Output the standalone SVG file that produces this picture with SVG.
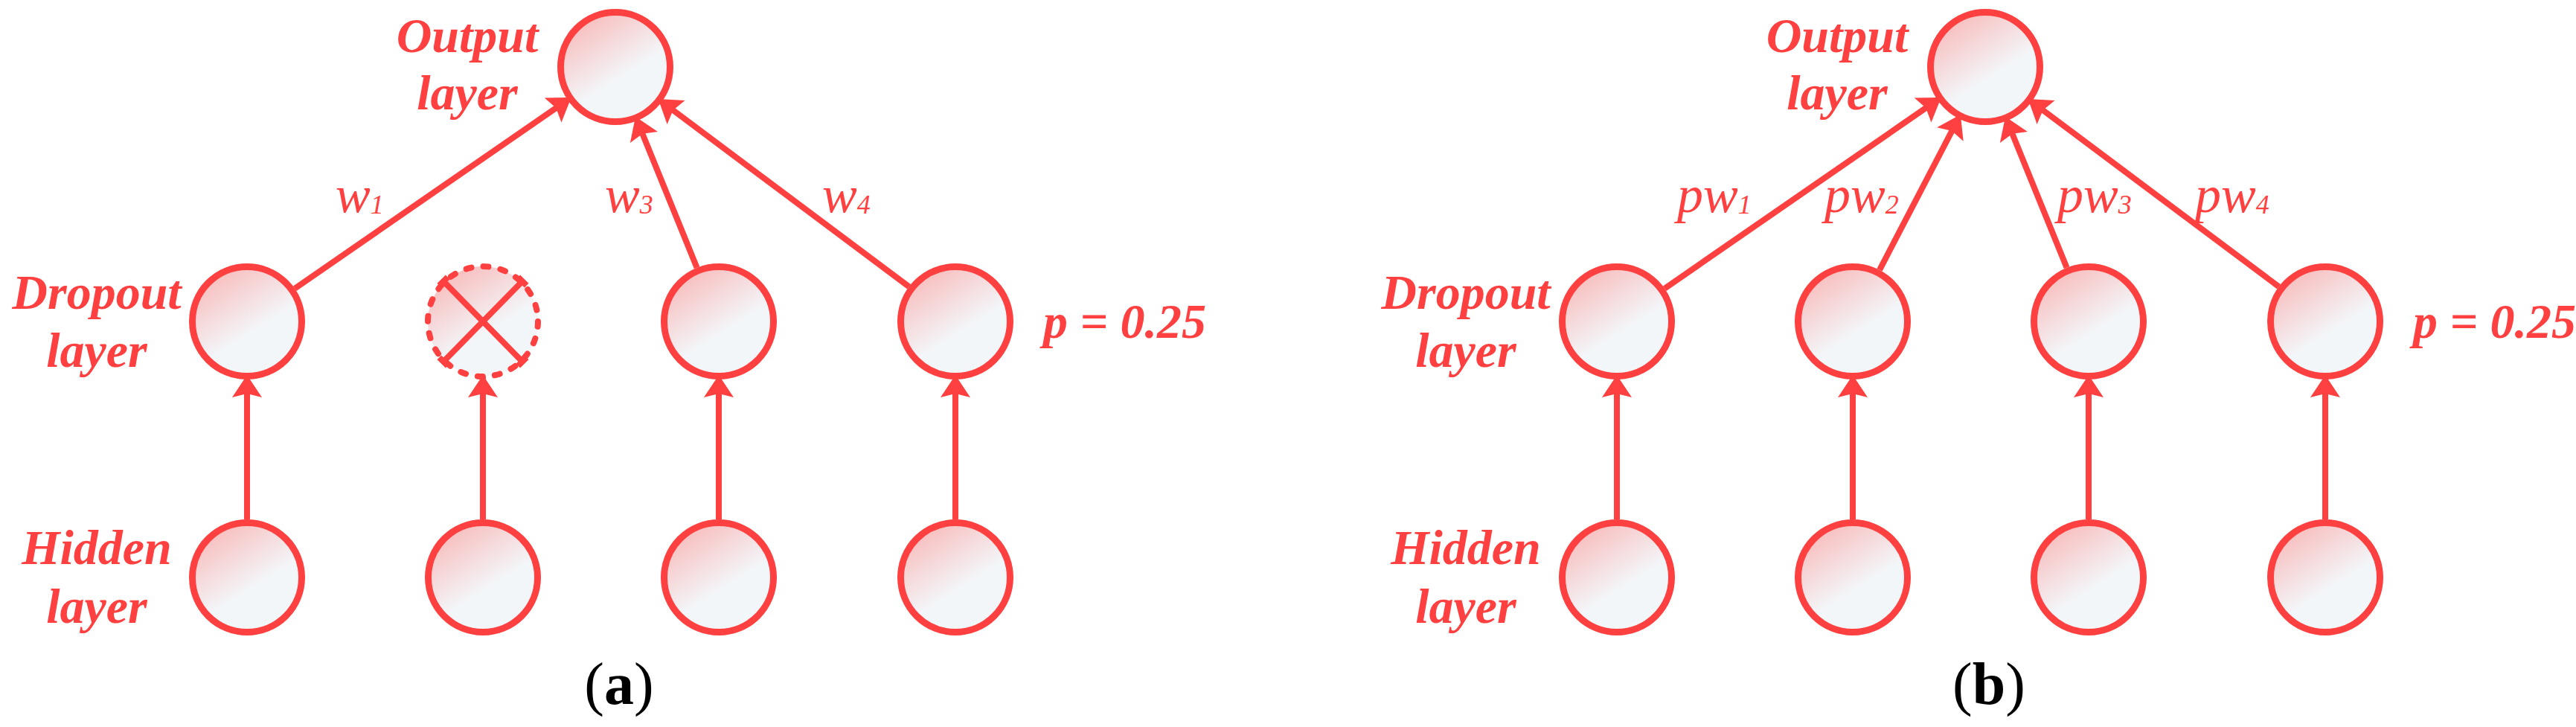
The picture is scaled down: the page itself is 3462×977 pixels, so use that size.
<svg xmlns="http://www.w3.org/2000/svg" width="3462" height="977" viewBox="0 0 3462 977">
<defs>
<linearGradient id="g" x1="0.2" y1="0.05" x2="0.55" y2="0.6">
<stop offset="0" stop-color="#f8bcbc"/>
<stop offset="1" stop-color="#f3f6f9"/>
</linearGradient>
<marker id="ah" markerUnits="userSpaceOnUse" orient="auto" refX="0" refY="0" markerWidth="40" markerHeight="44" overflow="visible">
<path d="M0,0 L-30,-20 L-25,0 L-30,20 Z" fill="#ff4040"/>
</marker>
<style>
.n{fill:url(#g);stroke:#ff4040;stroke-width:9}
.d{fill:url(#g);stroke:#ff4040;stroke-width:8;stroke-dasharray:7 16.248;stroke-linecap:round}
.x{stroke:#ff4040;stroke-width:8;fill:none}
.c line{stroke:#ff4040;stroke-width:8;marker-end:url(#ah)}
.lbl{font-family:"Liberation Serif",serif;font-style:italic;font-weight:bold;font-size:66px;fill:#ff4040;text-anchor:middle}
.w{font-family:"Liberation Serif",serif;font-style:italic;font-size:70px;fill:#ff4040}
.w tspan{font-size:36px}
.p{font-family:"Liberation Serif",serif;font-style:italic;font-weight:bold;font-size:66px;fill:#ff4040}
.cap{font-family:"Liberation Serif",serif;font-size:80px;fill:#000;text-anchor:middle}
</style>
</defs>
<rect width="3462" height="977" fill="#fff"/>

<g id="connectors" class="c">
<!-- panel a -->
<line x1="396.2" y1="387.7" x2="767.8" y2="130.9"/>
<line x1="936.6" y1="359.7" x2="854.1" y2="156.7"/>
<line x1="1221.6" y1="385.3" x2="884.6" y2="133.1"/>
<line x1="332" y1="698" x2="332" y2="504"/>
<line x1="649" y1="698" x2="649" y2="504"/>
<line x1="966" y1="698" x2="966" y2="504"/>
<line x1="1284" y1="698" x2="1284" y2="504"/>
<!-- panel b -->
<line x1="2237.2" y1="387.7" x2="2608.8" y2="130.9"/>
<line x1="2526.0" y1="362.8" x2="2634.8" y2="153.9"/>
<line x1="2777.6" y1="359.7" x2="2695.1" y2="156.7"/>
<line x1="3062.6" y1="385.3" x2="2725.6" y2="133.1"/>
<line x1="2173" y1="698" x2="2173" y2="504"/>
<line x1="2490" y1="698" x2="2490" y2="504"/>
<line x1="2807" y1="698" x2="2807" y2="504"/>
<line x1="3125" y1="698" x2="3125" y2="504"/>
</g>

<!-- panel a nodes -->
<g id="a-output"><circle class="n" cx="827" cy="90" r="73.5"/></g>
<g id="a-drop1"><circle class="n" cx="332" cy="432" r="73.5"/></g>
<g id="a-drop2">
<circle class="d" cx="649" cy="432" r="74"/>
<path class="x" d="M596,378 L702,486 M702,378 L596,486 M590.3,383.6 L601.7,372.4 M696.3,491.6 L707.7,480.4 M696.3,372.4 L707.7,383.6 M590.3,480.4 L601.7,491.6"/>
</g>
<g id="a-drop3"><circle class="n" cx="966" cy="432" r="73.5"/></g>
<g id="a-drop4"><circle class="n" cx="1284" cy="432" r="73.5"/></g>
<g id="a-hid1"><circle class="n" cx="332" cy="776" r="73.5"/></g>
<g id="a-hid2"><circle class="n" cx="649" cy="776" r="73.5"/></g>
<g id="a-hid3"><circle class="n" cx="966" cy="776" r="73.5"/></g>
<g id="a-hid4"><circle class="n" cx="1284" cy="776" r="73.5"/></g>

<!-- panel b nodes -->
<g id="b-output"><circle class="n" cx="2668" cy="90" r="73.5"/></g>
<g id="b-drop1"><circle class="n" cx="2173" cy="432" r="73.5"/></g>
<g id="b-drop2"><circle class="n" cx="2490" cy="432" r="73.5"/></g>
<g id="b-drop3"><circle class="n" cx="2807" cy="432" r="73.5"/></g>
<g id="b-drop4"><circle class="n" cx="3125" cy="432" r="73.5"/></g>
<g id="b-hid1"><circle class="n" cx="2173" cy="776" r="73.5"/></g>
<g id="b-hid2"><circle class="n" cx="2490" cy="776" r="73.5"/></g>
<g id="b-hid3"><circle class="n" cx="2807" cy="776" r="73.5"/></g>
<g id="b-hid4"><circle class="n" cx="3125" cy="776" r="73.5"/></g>

<g id="labels">
<text class="lbl" x="628" y="70">Output</text>
<text class="lbl" x="628" y="147">layer</text>
<text class="lbl" x="130" y="415">Dropout</text>
<text class="lbl" x="130" y="493">layer</text>
<text class="lbl" x="130" y="758">Hidden</text>
<text class="lbl" x="130" y="837">layer</text>
<text class="p" x="1402" y="454">p = 0.25</text>
<text class="w" x="451" y="285">w<tspan dy="2">1</tspan></text>
<text class="w" x="813" y="285">w<tspan dy="2">3</tspan></text>
<text class="w" x="1105" y="285">w<tspan dy="2">4</tspan></text>
<text class="cap" x="832" y="946">(<tspan font-weight="bold">a</tspan>)</text>

<text class="lbl" x="2469" y="70">Output</text>
<text class="lbl" x="2469" y="147">layer</text>
<text class="lbl" x="1970" y="415">Dropout</text>
<text class="lbl" x="1970" y="493">layer</text>
<text class="lbl" x="1970" y="758">Hidden</text>
<text class="lbl" x="1970" y="837">layer</text>
<text class="p" x="3243" y="454">p = 0.25</text>
<text class="w" x="2254" y="285">pw<tspan dy="2">1</tspan></text>
<text class="w" x="2452" y="285">pw<tspan dy="2">2</tspan></text>
<text class="w" x="2765" y="285">pw<tspan dy="2">3</tspan></text>
<text class="w" x="2950" y="285">pw<tspan dy="2">4</tspan></text>
<text class="cap" x="2673" y="946">(<tspan font-weight="bold">b</tspan>)</text>
</g>
</svg>
